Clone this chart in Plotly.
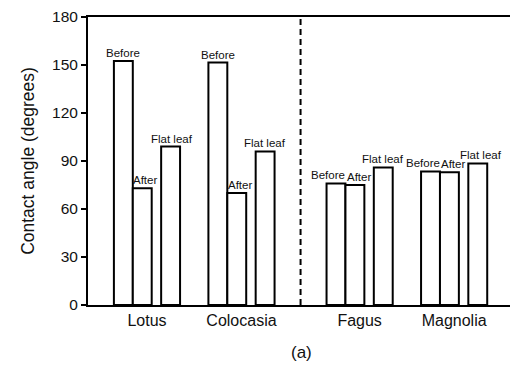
import plotly.graph_objects as go

# Data
plants = ["Lotus", "Colocasia", "Fagus", "Magnolia"]
group_pos = [0, 1, 2.25, 3.25]
series_names = ["Before", "After", "Flat leaf"]
before = [152.5, 151.5, 76, 83.5]
after = [73, 70, 75, 83]
flat_leaf = [99, 96, 86, 88.5]
series_values = [before, after, flat_leaf]
y_ticks = [0, 30, 60, 90, 120, 150, 180]

# Style / layout (not data)
offsets = [-0.35, -0.15, 0.15]
bar_w = 0.2
# horizontal nudges (px) of the bar labels, per series then per group
label_xshift = [[0, 0, -8, -8], [3, 3, 4, 4], [1.5, 0, 0, 3.5]]
FONT = "Liberation Sans, Arial, sans-serif"

fig = go.Figure()
for si, (name, vals, off) in enumerate(zip(series_names, series_values, offsets)):
    fig.add_trace(go.Bar(
        x=group_pos, y=vals, name=name,
        offset=off, width=bar_w,
        marker=dict(color="white", line=dict(color="black", width=2)),
        showlegend=False,
    ))
    for gi, (gx, v) in enumerate(zip(group_pos, vals)):
        fig.add_annotation(
            x=gx + off + bar_w / 2, y=v, xref="x", yref="y",
            text=name, showarrow=False, xanchor="center", yanchor="bottom",
            xshift=label_xshift[si][gi], yshift=0,
            font=dict(family=FONT, size=11.5, color="#111"),
        )

divider_x = (group_pos[1] + group_pos[2]) / 2
fig.add_shape(type="line", xref="x", yref="y", x0=divider_x, x1=divider_x,
              y0=y_ticks[0], y1=y_ticks[-1],
              line=dict(color="black", width=2, dash="6px,4px"))

fig.add_annotation(text="(a)", xref="paper", yref="paper", x=0.505, y=-0.165,
                   xanchor="center", yanchor="middle", showarrow=False,
                   font=dict(family=FONT, size=17, color="#111"))

fig.update_layout(
    width=510, height=365,
    margin=dict(l=88, r=0, t=17, b=60),
    paper_bgcolor="white", plot_bgcolor="white",
    font=dict(family=FONT, color="#111"),
    barmode="overlay",
    xaxis=dict(range=[-0.624, 3.841], tickvals=group_pos, ticktext=plants,
               showline=True, linecolor="black", linewidth=2, mirror=True,
               showgrid=False, zeroline=False, ticks="",
               tickfont=dict(family=FONT, size=16, color="#111")),
    yaxis=dict(range=[0, 180], tickvals=y_ticks, showline=True,
               linecolor="black", linewidth=2, mirror=False,
               showgrid=False, zeroline=False, ticks="outside", ticklen=5,
               tickwidth=1.5, tickcolor="black",
               tickfont=dict(family=FONT, size=15.5, color="#111"),
               title=dict(text="Contact angle (degrees)", standoff=13,
                          font=dict(family=FONT, size=17.5, color="#111"))),
)

fig.write_html("out.html")
